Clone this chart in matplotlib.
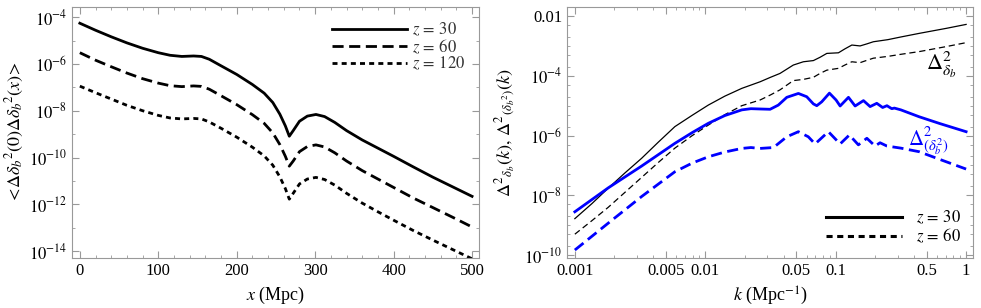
import numpy as np
import matplotlib
matplotlib.use('Agg')
import matplotlib.pyplot as plt
from matplotlib.ticker import FixedLocator, NullFormatter, FuncFormatter

plt.rcParams['font.family'] = ['Liberation Serif', 'DejaVu Serif']
plt.rcParams['mathtext.fontset'] = 'stix'

# left panel: correlation function vs x (Mpc), values are log10
x_mpc = [0, 20, 40, 60, 80, 100, 115, 130, 145, 155, 165, 180, 200, 220, 235, 246, 255, 262, 267,
         272, 280, 290, 301, 312, 325, 340, 360, 380, 400, 425, 450, 475, 500]
corr_z30 = [-4.26, -4.56, -4.84, -5.1, -5.33, -5.52, -5.63, -5.68, -5.66, -5.68, -5.8, -6.08, -6.45,
            -6.88, -7.25, -7.65, -8.15, -8.65, -9.09, -8.85, -8.45, -8.23, -8.16, -8.25, -8.5, -8.85,
            -9.25, -9.6, -9.95, -10.4, -10.84, -11.25, -11.66]
corr_z60 = [-5.52, -5.84, -6.12, -6.39, -6.63, -6.82, -6.93, -6.97, -6.94, -6.96, -7.08, -7.36, -7.74,
            -8.17, -8.54, -8.95, -9.45, -9.95, -10.37, -10.15, -9.75, -9.53, -9.46, -9.55, -9.8, -10.15,
            -10.56, -10.92, -11.28, -11.73, -12.14, -12.55, -12.97]
corr_z120 = [-6.95, -7.23, -7.5, -7.77, -8.0, -8.2, -8.31, -8.35, -8.33, -8.35, -8.48, -8.75, -9.13,
             -9.56, -9.93, -10.33, -10.83, -11.33, -11.78, -11.53, -11.13, -10.92, -10.85, -10.94, -11.18,
             -11.53, -11.95, -12.32, -12.68, -13.12, -13.53, -13.93, -14.33]

# right panel: power spectra, log10 k (1/Mpc) and log10 Delta^2
logk_blk = [-3.0, -2.87, -2.744, -2.616, -2.488, -2.36, -2.233, -2.1, -1.977, -1.85, -1.72, -1.58, -1.5,
            -1.427, -1.325, -1.248, -1.171, -1.12, -1.068, -0.979, -0.93, -0.876, -0.813, -0.76, -0.711,
            -0.6, -0.5, -0.36, -0.15, 0.0]
pk_z30 = [-8.78, -8.28, -7.76, -7.25, -6.76, -6.22, -5.70, -5.32, -4.98, -4.68, -4.42, -4.2, -4.05,
          -3.92, -3.64, -3.53, -3.49, -3.38, -3.25, -3.23, -3.1, -2.97, -3.0, -2.93, -2.86,
          -2.79, -2.7, -2.58, -2.41, -2.28]
pk_z60 = [-9.3, -8.85, -8.4, -7.9, -7.4, -6.9, -6.42, -6.0, -5.65, -5.3, -5.0, -4.81, -4.64,
          -4.47, -4.16, -4.12, -4.05, -3.92, -3.81, -3.75, -3.64, -3.53, -3.56, -3.48, -3.41,
          -3.35, -3.28, -3.19, -3.02, -2.89]

logk_z30 = [-3.0, -2.744, -2.488, -2.233, -2.1, -1.977, -1.85, -1.72, -1.65, -1.58, -1.503, -1.44, -1.375,
            -1.286, -1.222, -1.171, -1.145, -1.107, -1.048, -0.997, -0.966, -0.902, -0.851, -0.787, -0.736,
            -0.685, -0.64, -0.607, -0.57, -0.55, -0.5, -0.36, -0.2, 0.0]
pk2_z30 = [-8.55, -7.75, -7.02, -6.26, -5.9, -5.59, -5.33, -5.14, -5.1, -5.11, -5.12, -4.98, -4.72,
           -4.59, -4.70, -4.94, -5.0, -4.87, -4.58, -4.81, -5.01, -4.72, -5.01, -4.83, -5.03,
           -4.92, -5.06, -5.0, -5.1, -5.08, -5.14, -5.37, -5.6, -5.87]
logk_z60 = [-3.0, -2.744, -2.488, -2.233, -2.1, -1.977, -1.85, -1.72, -1.65, -1.58, -1.477, -1.375,
            -1.286, -1.21, -1.158, -1.056, -0.966, -0.895, -0.826, -0.761, -0.698, -0.66, -0.607,
            -0.5, -0.36, -0.2, 0.0]
pk2_z60 = [-9.83, -8.93, -8.04, -7.21, -6.92, -6.71, -6.55, -6.43, -6.4, -6.43, -6.4, -6.04,
           -5.87, -6.04, -6.28, -5.87, -6.28, -5.98, -6.31, -6.09, -6.35, -6.24, -6.35,
           -6.42, -6.54, -6.8, -7.12]

frame_col = '#999999'
blue = '#0000ff'

fig = plt.figure(figsize=(9.81, 3.08), dpi=100)
ax1 = fig.add_axes([0.0734, 0.162, 0.415, 0.815])
ax2 = fig.add_axes([0.578, 0.162, 0.414, 0.815])

def style(ax):
    for s in ax.spines.values():
        s.set_color(frame_col)
    ax.tick_params(which='both', direction='in', top=True, right=True, color=frame_col,
                   labelsize=12, labelcolor='black')
    ax.tick_params(which='major', length=5)
    ax.tick_params(which='minor', length=2.5)

# left panel
ax1.plot(x_mpc, 10 ** np.array(corr_z30), color='black', lw=2, label='$z\\,=\\,30$')
ax1.plot(x_mpc, 10 ** np.array(corr_z60), color='black', lw=2, ls=(0, (4, 2)), label='$z\\,=\\,60$')
ax1.plot(x_mpc, 10 ** np.array(corr_z120), color='black', lw=2, ls=(0, (1.8, 1.5)), label='$z\\,=\\,120$')
ax1.set_yscale('log')
ax1.set_xlim(-10, 509)
ax1.set_ylim(10 ** -14.3, 10 ** -3.57)
ax1.xaxis.set_major_locator(FixedLocator([0, 100, 200, 300, 400, 500]))
ax1.xaxis.set_minor_locator(FixedLocator(np.arange(0, 501, 20)))
ax1.yaxis.set_major_locator(FixedLocator([1e-4, 1e-6, 1e-8, 1e-10, 1e-12, 1e-14]))
ax1.yaxis.set_minor_locator(FixedLocator([10.0 ** p for p in range(-15, -3)]))
ax1.yaxis.set_minor_formatter(NullFormatter())
ax1.yaxis.set_major_formatter(FuncFormatter(lambda v, p: '$10^{%d}$' % round(np.log10(v))))
style(ax1)
ax1.set_xlabel('$x$ (Mpc)', fontsize=13)
ax1.set_ylabel('$<\\!\\Delta\\delta_b{}^2(0)\\Delta\\delta_b{}^2(x)\\!>$', fontsize=13, labelpad=2)
leg1 = ax1.legend(loc='upper right', frameon=False, fontsize=12, handlelength=4.5,
                  borderaxespad=0.45, labelspacing=-0.05, handletextpad=0.3)
for t in leg1.get_texts():
    t.set_color('#333333')

# right panel
ax2.plot(10 ** np.array(logk_blk), 10 ** np.array(pk_z30), color='black', lw=0.9)
ax2.plot(10 ** np.array(logk_blk), 10 ** np.array(pk_z60), color='black', lw=0.9, ls=(0, (5, 3)))
ax2.plot(10 ** np.array(logk_z30), 10 ** np.array(pk2_z30), color=blue, lw=2)
ax2.plot(10 ** np.array(logk_z60), 10 ** np.array(pk2_z60), color=blue, lw=2, ls=(0, (4, 2)))
ax2.set_xscale('log')
ax2.set_yscale('log')
ax2.set_xlim(10 ** -3.06, 10 ** 0.054)
ax2.set_ylim(10 ** -10.1, 10 ** -1.7)
xt = [0.001, 0.005, 0.01, 0.05, 0.1, 0.5, 1]
xt_lab = ['0.001', '0.005', '0.01', '0.05', '0.1', '0.5', '1']
ax2.xaxis.set_major_locator(FixedLocator(xt))
ax2.set_xticklabels(xt_lab)
ax2.xaxis.set_minor_locator(FixedLocator([m * 10.0 ** e for e in range(-3, 0) for m in range(2, 10)]))
ax2.xaxis.set_minor_formatter(NullFormatter())
ax2.yaxis.set_major_locator(FixedLocator([1e-2, 1e-4, 1e-6, 1e-8, 1e-10]))
ax2.set_yticklabels(['0.01', '$10^{-4}$', '$10^{-6}$', '$10^{-8}$', '$10^{-10}$'])
ax2.yaxis.set_minor_locator(FixedLocator([m * 10.0 ** e for e in range(-11, -1) for m in (1, 2, 5)]))
ax2.yaxis.set_minor_formatter(NullFormatter())
style(ax2)
ax2.set_xlabel('$k$ (Mpc$^{-1}$)', fontsize=13)
ax2.set_ylabel('$\\Delta^2{}_{\\delta_b}(k),\\,\\Delta^2{}_{(\\delta_b{}^2)}(k)$', fontsize=13, labelpad=4)
ax2.text(0.885, 0.75, '$\\Delta^2_{\\delta_b}$', transform=ax2.transAxes, fontsize=16, color='black')
ax2.text(0.84, 0.45, '$\\Delta^2_{(\\delta_b^2)}$', transform=ax2.transAxes, fontsize=15, color=blue)
h1, = ax2.plot([], [], color='black', lw=2.2, label='$z\\,=\\,30$')
h2, = ax2.plot([], [], color='black', lw=2.2, ls=(0, (2, 1.5)), label='$z\\,=\\,60$')
ax2.legend(handles=[h1, h2], loc='lower right', frameon=False, fontsize=12, handlelength=4.6,
           borderaxespad=0.35, labelspacing=0.05, handletextpad=0.8)

fig.savefig('out.png', dpi=100)
